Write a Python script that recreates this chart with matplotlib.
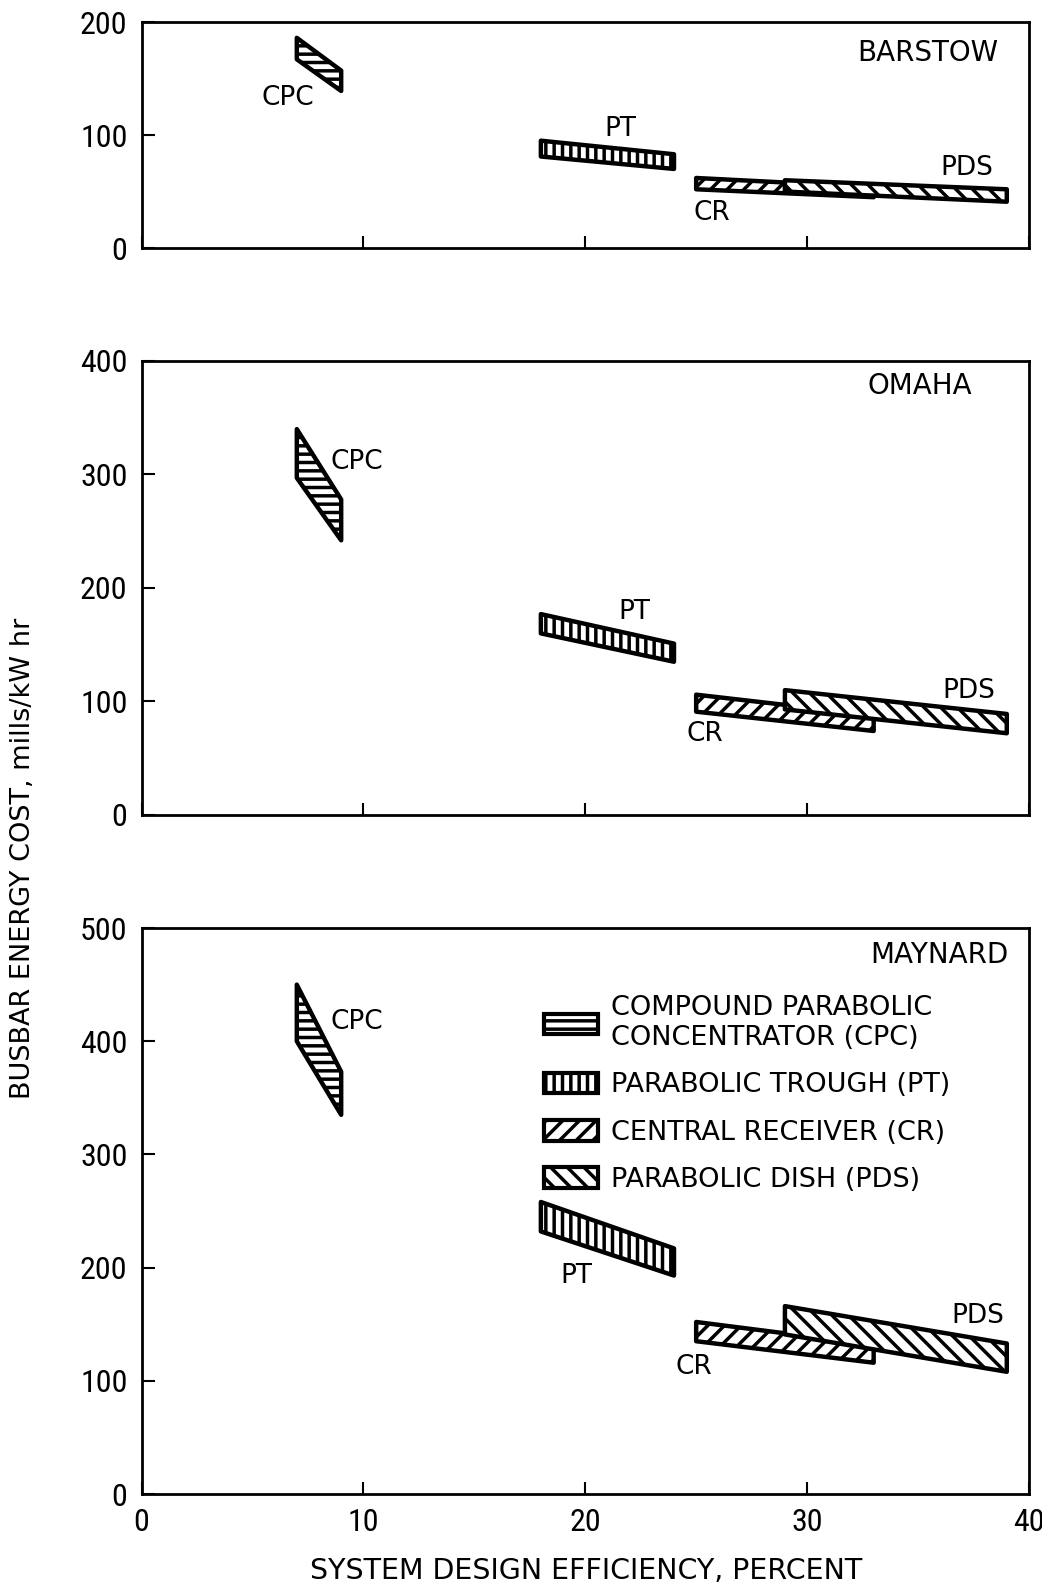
import matplotlib
matplotlib.use("Agg")
import matplotlib.pyplot as plt
from matplotlib.patches import Patch
from matplotlib import font_manager as fm
from matplotlib.transforms import offset_copy

# technologies and their efficiency ranges (percent)
techs = ["CPC", "PT", "CR", "PDS"]
x_start = [7, 18, 25, 29]
x_end = [9, 24, 33, 39]
hatches = ["--", "||", "//", "\\\\"]
legend_labels = ["COMPOUND PARABOLIC\nCONCENTRATOR (CPC)", "PARABOLIC TROUGH (PT)",
                 "CENTRAL RECEIVER (CR)", "PARABOLIC DISH (PDS)"]

# busbar energy cost bands, mills/kW hr: low/high at x_start and at x_end
barstow_lo_start = [167, 81, 52, 50]
barstow_hi_start = [186, 95, 62, 60]
barstow_lo_end = [139, 70, 45, 41]
barstow_hi_end = [157, 83, 54, 52]

omaha_lo_start = [297, 160, 91, 93]
omaha_hi_start = [340, 177, 106, 110]
omaha_lo_end = [242, 135, 74, 72]
omaha_hi_end = [278, 151, 88, 89]

maynard_lo_start = [400, 232, 135, 141]
maynard_hi_start = [450, 258, 152, 166]
maynard_lo_end = [335, 193, 116, 108]
maynard_hi_end = [373, 217, 132, 133]

sites = ["BARSTOW", "OMAHA", "MAYNARD"]
ymax = [200, 400, 500]
yticks = [[0, 100, 200], [0, 100, 200, 300, 400], [0, 100, 200, 300, 400, 500]]
xticks = [0, 10, 20, 30, 40]

# label positions (data coords) for each band
barstow_lbl = [(6.6, 133), (21.6, 105), (25.7, 31), (37.2, 71)]
omaha_lbl = [(9.7, 311), (22.2, 179), (25.4, 71), (37.3, 109)]
maynard_lbl = [(9.7, 417), (19.6, 193), (24.9, 112), (37.7, 157)]

# look for a narrow face for the tick digits
narrow = None
for fam in ["Liberation Sans Narrow", "DejaVu Sans Condensed", "Roboto Condensed",
            "Open Sans Condensed", "Arial Narrow"]:
    try:
        fm.findfont(fam, fallback_to_default=False)
        narrow = fam
        break
    except Exception:
        pass
if narrow is None:
    p = fm.findfont(fm.FontProperties(family="DejaVu Sans", stretch="condensed"))
    if "Condensed" in p:
        narrow = "cond"

plt.rcParams["font.family"] = ["DejaVu Sans"]
plt.rcParams["hatch.linewidth"] = 2.5
plt.rcParams["hatch.color"] = "black"

fig = plt.figure(figsize=(10.42, 15.84), dpi=100)
left, width = 0.1358, 0.8517
axes = [fig.add_axes([left, 0.8434, width, 0.1427]),
        fig.add_axes([left, 0.4855, width, 0.2866]),
        fig.add_axes([left, 0.0568, width, 0.3573])]

data = [(barstow_lo_start, barstow_hi_start, barstow_lo_end, barstow_hi_end, barstow_lbl),
        (omaha_lo_start, omaha_hi_start, omaha_lo_end, omaha_hi_end, omaha_lbl),
        (maynard_lo_start, maynard_hi_start, maynard_lo_end, maynard_hi_end, maynard_lbl)]
site_pos = [(0.965, 0.863), (0.936, 0.945), (0.977, 0.952)]

for i, ax in enumerate(axes):
    lo_s, hi_s, lo_e, hi_e, lbl = data[i]
    for j, t in enumerate(techs):
        ax.fill_between([x_start[j], x_end[j]], [lo_s[j], lo_e[j]], [hi_s[j], hi_e[j]],
                        facecolor="white", edgecolor="black", hatch=hatches[j],
                        linewidth=3.2, joinstyle="round", zorder=2 + j)
        ax.text(lbl[j][0], lbl[j][1], t, fontsize=19, ha="center", va="center")
    ax.text(site_pos[i][0], site_pos[i][1], sites[i], transform=ax.transAxes,
            fontsize=20, ha="right", va="center")
    ax.set_xlim(0, 40)
    ax.set_ylim(0, ymax[i])
    ax.set_xticks(xticks)
    ax.set_yticks(yticks[i])
    ax.tick_params(direction="in", length=9, width=1.5, pad=10, labelsize=23)
    for lab in ax.get_yticklabels() + ax.get_xticklabels():
        if narrow == "cond":
            lab.set_fontstretch("condensed")
        elif narrow is not None:
            lab.set_family(narrow)
        else:
            lab.set_fontsize(18)
    if i < 2:
        ax.tick_params(labelbottom=False)
    for s in ax.spines.values():
        s.set_linewidth(2)

if narrow is None:
    # keep the last x tick label inside the figure
    last = axes[2].get_xticklabels()[-1]
    last.set_transform(offset_copy(last.get_transform(), fig=fig, x=-6, units="dots"))

handles = [Patch(facecolor="white", edgecolor="black", hatch=hatches[j], linewidth=3)
           for j in range(len(techs))]
axes[2].legend(handles, legend_labels, loc="upper left", bbox_to_anchor=(0.438, 0.905),
               frameon=False, fontsize=19.5, handlelength=2.0, handleheight=0.8,
               labelspacing=0.78, handletextpad=0.5, borderpad=0)

fig.text(0.022, 0.458, "BUSBAR ENERGY COST, mills/kW hr", rotation=90,
         fontsize=19.5, ha="center", va="center")
fig.text(0.5625, 0.0085, "SYSTEM DESIGN EFFICIENCY, PERCENT", fontsize=20.5,
         ha="center", va="center")

fig.savefig("out.png", dpi=100)
